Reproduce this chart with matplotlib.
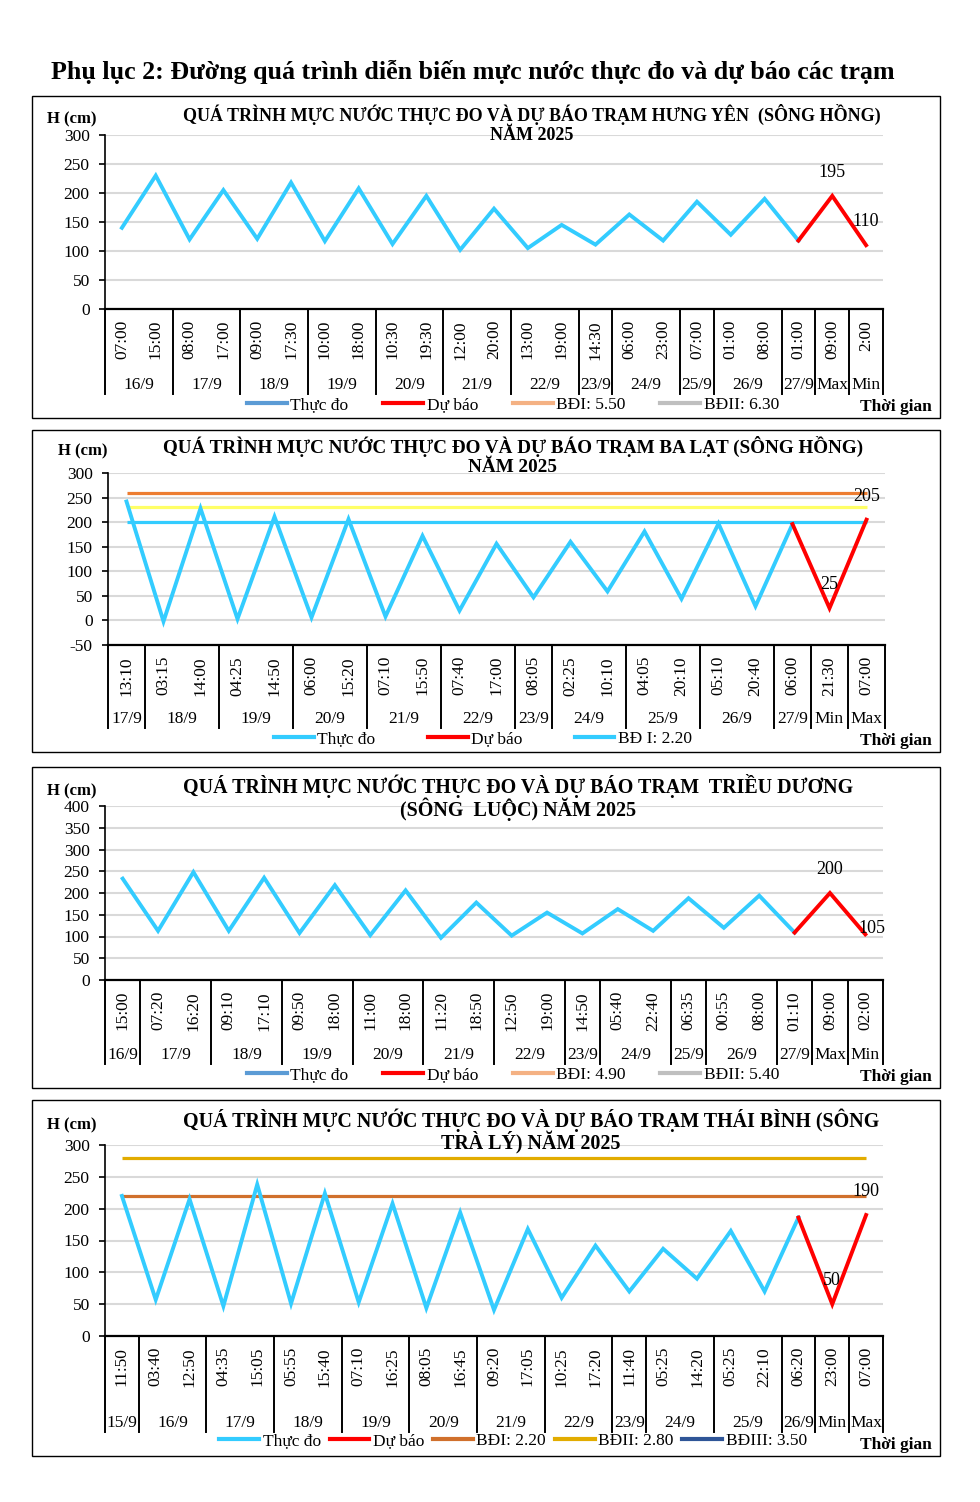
import numpy as np
import matplotlib
matplotlib.use("Agg")
import matplotlib.pyplot as plt
from matplotlib.lines import Line2D
from matplotlib.patches import Rectangle

plt.rcParams["font.family"] = ["Liberation Serif", "DejaVu Serif"]
plt.rcParams["axes.unicode_minus"] = False

W, H = 980, 1502

# ---- data ----
main_title = "Phụ lục 2: Đường quá trình diễn biến mực nước thực đo và dự báo các trạm"

# Hung Yen
hy_title = ["QUÁ TRÌNH MỰC NƯỚC THỰC ĐO VÀ DỰ BÁO TRẠM HƯNG YÊN  (SÔNG HỒNG)", "NĂM 2025"]
hy_times = ["07:00", "15:00", "08:00", "17:00", "09:00", "17:30", "10:00", "18:00",
            "10:30", "19:30", "12:00", "20:00", "13:00", "19:00", "14:30", "06:00",
            "23:00", "07:00", "01:00", "08:00", "01:00", "09:00", "2:00"]
hy_days = ["16/9", "17/9", "18/9", "19/9", "20/9", "21/9", "22/9", "23/9", "24/9",
           "25/9", "26/9", "27/9", "Max", "Min"]
hy_day_sizes = [2, 2, 2, 2, 2, 2, 2, 1, 2, 1, 2, 1, 1, 1]
hy_obs = [140, 230, 120, 205, 121, 218, 117, 208, 112, 195, 102, 173, 105, 145,
          111, 163, 118, 185, 128, 190, 118]
hy_fc = [118, 195, 110]
hy_alarms = [550, 630]
hy_legend = ["Thực đo", "Dự báo", "BĐI: 5.50", "BĐII: 6.30"]

# Ba Lat
bl_title = ["QUÁ TRÌNH MỰC NƯỚC THỰC ĐO VÀ DỰ BÁO TRẠM BA LẠT (SÔNG HỒNG)", "NĂM 2025"]
bl_times = ["13:10", "03:15", "14:00", "04:25", "14:50", "06:00", "15:20", "07:10",
            "15:50", "07:40", "17:00", "08:05", "02:25", "10:10", "04:05", "20:10",
            "05:10", "20:40", "06:00", "21:30", "07:00"]
bl_days = ["17/9", "18/9", "19/9", "20/9", "21/9", "22/9", "23/9", "24/9", "25/9",
           "26/9", "27/9", "Min", "Max"]
bl_day_sizes = [1, 2, 2, 2, 2, 2, 1, 2, 2, 2, 1, 1, 1]
bl_obs = [242, -2, 228, 3, 211, 6, 206, 8, 172, 20, 156, 47, 160, 59, 181, 44,
          197, 29, 196]
bl_fc = [196, 25, 205]
bl_levels = [260, 230, 200]
bl_legend = ["Thực đo", "Dự báo", "BĐ I: 2.20"]

# Trieu Duong
td_title = ["QUÁ TRÌNH MỰC NƯỚC THỰC ĐO VÀ DỰ BÁO TRẠM  TRIỀU DƯƠNG", "(SÔNG  LUỘC) NĂM 2025"]
td_times = ["15:00", "07:20", "16:20", "09:10", "17:10", "09:50", "18:00", "11:00",
            "18:00", "11:20", "18:50", "12:50", "19:00", "14:50", "05:40", "22:40",
            "06:35", "00:55", "08:00", "01:10", "09:00", "02:00"]
td_days = ["16/9", "17/9", "18/9", "19/9", "20/9", "21/9", "22/9", "23/9", "24/9",
           "25/9", "26/9", "27/9", "Max", "Min"]
td_day_sizes = [1, 2, 2, 2, 2, 2, 2, 1, 2, 1, 2, 1, 1, 1]
td_obs = [233, 113, 248, 113, 235, 108, 218, 103, 206, 97, 178, 102, 155, 107,
          163, 113, 188, 120, 194, 109]
td_fc = [109, 200, 105]
td_alarms = [490, 540]
td_legend = ["Thực đo", "Dự báo", "BĐI: 4.90", "BĐII: 5.40"]

# Thai Binh
tb_title = ["QUÁ TRÌNH MỰC NƯỚC THỰC ĐO VÀ DỰ BÁO TRẠM THÁI BÌNH (SÔNG", "TRÀ LÝ) NĂM 2025"]
tb_times = ["11:50", "03:40", "12:50", "04:35", "15:05", "05:55", "15:40", "07:10",
            "16:25", "08:05", "16:45", "09:20", "17:05", "10:25", "17:20", "11:40",
            "05:25", "14:20", "05:25", "22:10", "06:20", "23:00", "07:00"]
tb_days = ["15/9", "16/9", "17/9", "18/9", "19/9", "20/9", "21/9", "22/9", "23/9",
           "24/9", "25/9", "26/9", "Min", "Max"]
tb_day_sizes = [1, 2, 2, 2, 2, 2, 2, 2, 1, 2, 2, 1, 1, 1]
tb_obs = [220, 57, 215, 47, 238, 51, 224, 53, 208, 44, 194, 41, 168, 60, 142, 70,
          137, 90, 165, 70, 186]
tb_fc = [186, 50, 190]
tb_levels = [220, 280, 350]
tb_legend = ["Thực đo", "Dự báo", "BĐI: 2.20", "BĐII: 2.80", "BĐIII: 3.50"]

OBS = "#33CCFF"
FC = "#FF0000"

fig = plt.figure(figsize=(W / 100, H / 100), dpi=100)


def fx(x):
    return x / W


def fy(y):
    return 1 - y / H


def box(x0, y0, x1, y1):
    fig.add_artist(Rectangle((fx(x0), fy(y1)), (x1 - x0) / W, (y1 - y0) / H,
                             transform=fig.transFigure, fill=False, ec="black", lw=1.0))


def panel(rect, plot, title, title_x, title_y, title_size, line_gap, hcm_x, ylim, ystep,
          times, days, sizes, obs, fc, levels, level_colors, legend_labels, legend_colors,
          legend_y, legend_x, colspace, label_offsets):
    box(*rect)
    l, t, r, b = plot
    ax = fig.add_axes([fx(l), fy(b), (r - l) / W, (b - t) / H])
    n = len(times)
    x = np.arange(n)
    ax.set_xlim(-0.5, n - 0.5)
    ax.set_ylim(*ylim)
    ax.set_yticks(np.arange(ylim[0], ylim[1] + 1, ystep))
    ax.yaxis.grid(True, color="#D9D9D9", lw=1.5)
    ax.set_axisbelow(True)
    for s in ["top", "right"]:
        ax.spines[s].set_visible(False)
    ax.spines["left"].set_linewidth(1.2)
    ax.spines["bottom"].set_linewidth(1.6)
    ax.tick_params(axis="y", labelsize=12.5, length=4, width=1.2, pad=7)
    ax.set_xticks(x)
    ax.set_xticklabels(times, rotation=90, fontsize=12.5)
    ax.tick_params(axis="x", length=0, pad=8)

    for lev, col in zip(levels, level_colors):
        ax.plot(x, np.full(n, lev), color=col, lw=2.3, solid_capstyle="butt")
    ax.plot(x[:len(obs)], obs, color=OBS, lw=2.8, solid_joinstyle="miter")
    xf = x[n - len(fc):]
    ax.plot(xf, fc, color=FC, lw=2.8, solid_joinstyle="miter")
    for i, (dx, dy) in zip([1, 2], label_offsets):
        ax.annotate(str(fc[i]), (xf[i], fc[i]), xytext=(dx, dy), textcoords="offset points",
                    ha="center", va="center", fontsize=13)

    # multi-level category axis
    trans = ax.get_xaxis_transform()
    ph = b - t
    sep_bottom = -(rect[3] - b - 24) / ph
    date_y = -(rect[3] - b - 33) / ph
    edges = np.concatenate([[0], np.cumsum(sizes)]) - 0.5
    for e in edges:
        ax.plot([e, e], [0, sep_bottom], transform=trans, clip_on=False, color="black", lw=1.4)
    for d, a0, a1 in zip(days, edges[:-1], edges[1:]):
        ax.text((a0 + a1) / 2, date_y, d, transform=trans, ha="center", va="center", fontsize=12.5)

    for k, line in enumerate(title):
        fig.text(fx(title_x), fy(title_y + line_gap * k), line, ha="center", va="center",
                 fontsize=title_size, fontweight="bold")
    fig.text(fx(hcm_x), fy(title_y + 5), "H (cm)", ha="left", va="center",
             fontsize=12, fontweight="bold")
    fig.text(fx(932), fy(rect[3] - 11), "Thời gian", ha="right", va="center",
             fontsize=12.5, fontweight="bold")
    handles = [Line2D([], [], color=c, lw=3) for c in legend_colors]
    fig.legend(handles, legend_labels, loc="center", bbox_to_anchor=(fx(legend_x), fy(legend_y + 1)),
               ncol=len(handles), frameon=False, fontsize=12.5, handlelength=2.3,
               handletextpad=0.2, columnspacing=colspace, borderpad=0, borderaxespad=0)
    return ax


fig.text(fx(473), fy(72), main_title, ha="center", va="center", fontsize=18.7, fontweight="bold")

panel((32, 96, 940, 418), (105, 135, 883, 309), hy_title, 532, 114, 13, 21, 47, (0, 300), 50,
      hy_times, hy_days, hy_day_sizes, hy_obs, hy_fc, hy_alarms, ["#F4B183", "#BFBFBF"],
      hy_legend, ["#5B9BD5", FC, "#F4B183", "#BFBFBF"], 404, 513, 2.0,
      [(0, 17), (0, 17)])

panel((32, 430, 940, 752), (108, 473, 885, 645), bl_title, 513, 446, 13.8, 22, 58, (-50, 300), 50,
      bl_times, bl_days, bl_day_sizes, bl_obs, bl_fc, bl_levels,
      ["#ED7D31", "#FFFF66", OBS],
      bl_legend, [OBS, FC, OBS], 738, 483, 3.0,
      [(0, 17), (0, 17)])

panel((32, 767, 940, 1088), (105, 806, 883, 980), td_title, 518, 786, 14.4, 23, 47, (0, 400), 50,
      td_times, td_days, td_day_sizes, td_obs, td_fc, td_alarms, ["#F4B183", "#BFBFBF"],
      td_legend, ["#5B9BD5", FC, "#F4B183", "#BFBFBF"], 1074, 513, 2.0,
      [(0, 17), (5, 4)])

panel((32, 1100, 940, 1456), (105, 1145, 883, 1336), tb_title, 531, 1120, 14.4, 23, 47, (0, 300), 50,
      tb_times, tb_days, tb_day_sizes, tb_obs, tb_fc, tb_levels,
      ["#D0702C", "#E2AC00", "#2F5597"],
      tb_legend, [OBS, FC, "#D0702C", "#E2AC00", "#2F5597"], 1440, 513, 0.5,
      [(0, 17), (0, 17)])

fig.savefig("out.png", dpi=100)
